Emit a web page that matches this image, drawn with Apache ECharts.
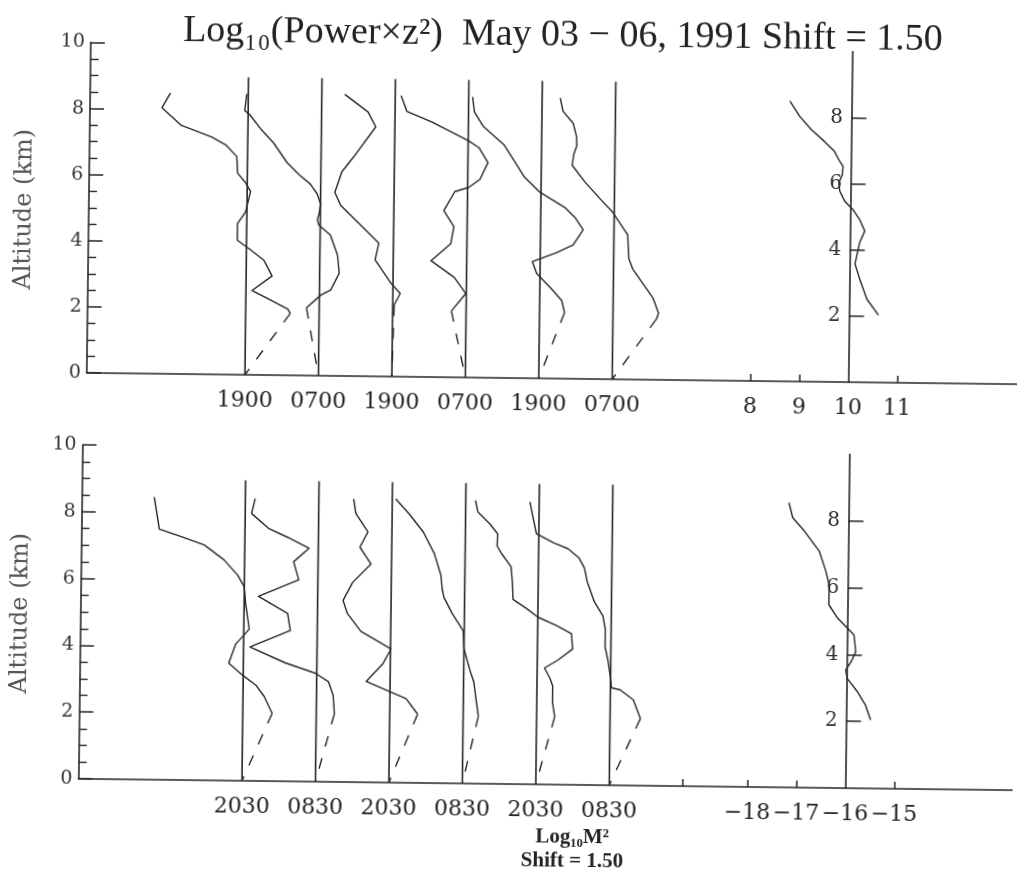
<!DOCTYPE html>
<html>
<head>
<meta charset="utf-8">
<script src="https://cdn.jsdelivr.net/npm/echarts@6/dist/echarts.min.js"></script>
<style>
html,body{margin:0;padding:0;background:#fff;overflow:hidden;}
#chart{width:1017px;height:878px;transform:rotate(0.7deg);transform-origin:50% 50%;background:#fff;}
</style>
</head>
<body>
<div id="chart"></div>
<script>
// ---------------- DATA ----------------
const SHIFT = 1.5;
// horizontal position of each profile's zero line (log units, reference scale = 0)
const baselinePos = [-12.32, -10.82, -9.32, -7.82, -6.32, -4.82];
const baselineTopKm = 9;
const topTimeLabels = ['1900', '0700', '1900', '0700', '1900', '0700'];
const bottomTimeLabels = ['2030', '0830', '2030', '0830', '2030', '0830'];
const topRefValue = 10;
const topRefTicks = [8, 9, 10, 11];
const bottomRefValue = -16;
const bottomRefTicks = [-18, -17, -16, -15];
const refAltTicks = [2, 4, 6, 8];

const titleText = 'Log₁₀(Power×z²)  May 03 − 06, 1991 Shift = 1.50';
const bottomName1 = 'Log₁₀M²';
const bottomName2 = 'Shift = 1.50';
const yName = 'Altitude (km)';

// profiles: [deviation from own zero line (log units), altitude km]
const top1 = [[-1.59,8.5],[-1.76,8.05],[-1.36,7.52],[-0.74,7.18],[-0.45,6.95],[-0.22,6.6],[-0.2,6.1],[-0.03,5.8],[0.07,5.55],[-0.03,4.92],[-0.19,4.57],[-0.19,4.07],[0.05,3.82],[0.36,3.47],[0.53,3.0],[0.12,2.55],[0.4,2.35],[0.86,2.0],[0.91,1.87]];
const top2 = [[-1.53,8.5],[-1.57,8.0],[-1.46,7.86],[-1.22,7.41],[-0.97,7.02],[-0.69,6.43],[-0.45,6.08],[-0.21,5.79],[-0.07,5.5],[0.0,5.2],[-0.02,4.94],[-0.06,4.71],[-0.03,4.56],[0.21,4.26],[0.36,3.66],[0.4,3.11],[0.23,2.6],[0.03,2.44],[-0.26,2.05]];
const top3 = [[-1.03,8.52],[-0.55,7.99],[-0.39,7.55],[-0.83,6.64],[-1.07,6.18],[-1.21,5.55],[-1.09,5.17],[-0.78,4.72],[-0.43,4.22],[-0.3,4.03],[-0.37,3.52],[-0.18,3.12],[-0.04,2.82],[0.15,2.52],[0.03,2.17]];
const top4 = [[-1.38,8.5],[-1.26,8.03],[-0.75,7.72],[0.01,7.16],[0.22,6.96],[0.41,6.51],[0.25,6.0],[0.02,5.75],[-0.26,5.62],[-0.48,5.04],[-0.27,4.56],[-0.33,4.04],[-0.73,3.52],[-0.25,3.02],[-0.01,2.54],[-0.3,2.01]];
const top5 = [[-1.42,8.49],[-1.38,8.04],[-1.2,7.61],[-0.77,7.06],[-0.58,6.63],[-0.34,6.08],[-0.03,5.64],[0.5,5.17],[0.7,4.88],[0.87,4.51],[0.67,4.05],[0.33,3.81],[-0.16,3.53],[-0.07,3.18],[0.24,2.71],[0.45,2.36],[0.51,2.0]];
const top6 = [[-1.13,8.49],[-1.07,8.09],[-0.86,7.73],[-0.79,7.34],[-0.78,7.06],[-0.84,6.79],[-0.87,6.46],[-0.6,5.95],[-0.27,5.42],[-0.03,5.05],[0.21,4.53],[0.28,4.38],[0.31,3.65],[0.39,3.35],[0.66,2.79],[0.81,2.48],[0.93,2.02],[0.89,1.84]];
// reference profile, absolute log10 values
const topRef = [[8.74,8.48],[8.94,8.03],[9.18,7.63],[9.45,7.28],[9.66,6.98],[9.77,6.68],[9.84,6.53],[9.83,6.28],[9.76,6.03],[9.78,5.78],[9.88,5.48],[10.05,5.23],[10.19,4.93],[10.3,4.58],[10.2,4.23],[10.11,3.58],[10.21,3.12],[10.36,2.52],[10.6,2.04]];

const bot1 = [[-1.86,8.47],[-1.75,7.51],[-1.3,7.29],[-0.83,7.05],[-0.42,6.61],[-0.14,6.16],[0.0,5.81],[0.03,5.32],[0.11,4.55],[0.01,4.37],[-0.16,4.1],[-0.3,3.52],[-0.02,3.17],[0.26,2.87],[0.43,2.54],[0.6,2.03]];
const bot2 = [[-1.3,8.46],[-1.37,8.01],[-1.02,7.57],[-0.63,7.31],[-0.19,6.99],[-0.5,6.58],[-0.39,6.04],[-1.21,5.53],[-0.61,5.03],[-0.55,4.52],[-1.37,4.01],[-0.65,3.55],[-0.03,3.25],[0.24,3.0],[0.34,2.6],[0.37,2.04]];
const bot3 = [[-0.79,8.48],[-0.74,8.05],[-0.49,7.5],[-0.65,7.04],[-0.42,6.54],[-0.79,5.98],[-0.98,5.44],[-0.89,5.05],[-0.61,4.52],[0.01,4.0],[-0.15,3.56],[-0.49,3.02],[0.33,2.52],[0.57,2.06]];
const bot4 = [[-1.43,8.5],[-1.15,8.05],[-0.86,7.52],[-0.63,6.88],[-0.49,6.24],[-0.46,5.82],[-0.42,5.56],[-0.25,5.09],[-0.02,4.57],[0.0,4.03],[0.13,3.38],[0.21,3.04],[0.26,2.52],[0.31,2.02]];
const bot5 = [[-1.3,8.48],[-1.25,8.14],[-1.0,7.78],[-0.84,7.49],[-0.85,7.13],[-0.75,6.89],[-0.56,6.51],[-0.53,6.09],[-0.51,5.53],[-0.23,5.26],[0.0,5.01],[0.38,4.77],[0.69,4.53],[0.72,4.07],[0.42,3.73],[0.15,3.49],[0.27,3.16],[0.32,2.95],[0.32,2.46],[0.37,2.03]];
const bot6 = [[-1.69,8.46],[-1.55,7.51],[-1.19,7.24],[-0.9,7.07],[-0.68,6.81],[-0.56,6.5],[-0.5,6.09],[-0.35,5.49],[-0.17,5.07],[-0.12,4.68],[-0.12,4.15],[-0.06,3.76],[0.0,3.22],[0.02,2.92],[0.2,2.86],[0.47,2.57],[0.62,2.01]];
const botRef = [[-17.22,8.53],[-17.14,8.08],[-16.9,7.69],[-16.59,7.09],[-16.45,6.49],[-16.38,6.09],[-16.38,5.49],[-16.2,5.09],[-15.96,4.74],[-15.86,4.59],[-15.82,4.09],[-15.91,3.79],[-16.02,3.54],[-15.99,3.29],[-15.78,2.9],[-15.61,2.5],[-15.5,2.05]];

const topProfiles = [top1, top2, top3, top4, top5, top6];
const botProfiles = [bot1, bot2, bot3, bot4, bot5, bot6];

// ---------------- BUILD ----------------
const INK = '#262626';
const NUM_FONT = "'DejaVu Serif', serif";
const TXT_FONT = "'Liberation Serif', serif";

function fmtNum(v) { return String(v).replace('-', '\u2212'); }

function buildSeries(p, profiles, refProfile, refValue) {
  const xi = p, yi = p * 2;
  const s = [];
  const base = { type: 'line', xAxisIndex: xi, yAxisIndex: yi, showSymbol: false, symbol: 'none',
    silent: true, animation: false, z: 3 };
  profiles.forEach((prof, i) => {
    const b = baselinePos[i];
    s.push(Object.assign({}, base, {
      data: [[b, 0], [b, baselineTopKm]],
      lineStyle: { color: INK, width: 1.6 }
    }));
    s.push(Object.assign({}, base, {
      data: prof.map(([d, a]) => [b + d, a]),
      lineStyle: { color: INK, width: 1.4, join: 'round' }
    }));
    const last = prof[prof.length - 1];
    s.push(Object.assign({}, base, {
      data: [[b + last[0], last[1]], [b, 0]],
      lineStyle: { color: INK, width: 1.4, type: [11, 12] }
    }));
  });
  s.push(Object.assign({}, base, {
    data: refProfile.map(([v, a]) => [v - refValue, a]),
    lineStyle: { color: INK, width: 1.4, join: 'round' }
  }));
  // altitude labels of the reference scale, placed left of its vertical line
  s.push({
    type: 'scatter', xAxisIndex: xi, yAxisIndex: yi, silent: true, animation: false,
    symbol: 'circle', symbolSize: 1, itemStyle: { color: 'rgba(0,0,0,0)' }, z: 5,
    data: refAltTicks.map(a => [refValue - refValue, a]),
    label: { show: true, position: 'left', distance: 8, formatter: pr => String(pr.value[1]),
      fontFamily: NUM_FONT, fontSize: 20, color: '#333', opacity: 1 },
    labelLayout: { hideOverlap: false }
  });
  return s;
}

function buildXAxis(p, min, max, timeLabels, refValue, refTicks, extraTicks) {
  const labelMap = {};
  baselinePos.forEach((b, i) => { labelMap[b.toFixed(2)] = timeLabels[i]; });
  const refPos = refTicks.map(t => t - refValue);
  refTicks.forEach((t, i) => { labelMap[refPos[i].toFixed(2)] = fmtNum(t); });
  const tickPos = refPos.filter(v => v !== 0).concat(extraTicks);
  return {
    gridIndex: p, type: 'value', min: min, max: max,
    axisLine: { show: true, onZero: true, lineStyle: { color: INK, width: 1.6 } },
    splitLine: { show: false },
    axisTick: { show: true, inside: true, length: 7, customValues: tickPos, lineStyle: { color: INK, width: 1.5 } },
    axisLabel: {
      show: true, customValues: baselinePos.concat(refPos), hideOverlap: false,
      formatter: v => labelMap[Number(v).toFixed(2)] || '',
      fontFamily: NUM_FONT, fontSize: 22, color: '#222', margin: 15
    }
  };
}

function buildMainY(p, nameGap, namePad) {
  return {
    gridIndex: p, type: 'value', min: 0, max: 10, interval: 2, position: 'left',
    axisLine: { show: true, onZero: false, lineStyle: { color: INK, width: 1.6 } },
    axisTick: { show: true, inside: true, length: 14, lineStyle: { color: INK, width: 1.5 } },
    minorTick: { show: true, splitNumber: 4, length: 8, lineStyle: { color: INK, width: 1.4 } },
    splitLine: { show: false }, minorSplitLine: { show: false },
    axisLabel: { fontFamily: NUM_FONT, fontSize: 19, color: '#333', margin: 6 },
    name: yName, nameLocation: 'middle', nameGap: nameGap, nameMoveOverlap: false,
    nameTextStyle: { fontFamily: NUM_FONT, fontSize: 24, color: '#555', padding: namePad }
  };
}

function buildRefY(p) {
  return {
    gridIndex: p, type: 'value', min: 0, max: 10, position: 'left',
    axisLine: { show: true, onZero: true, lineStyle: { color: INK, width: 1.6 } },
    axisTick: { show: true, inside: true, length: 15, customValues: refAltTicks, lineStyle: { color: INK, width: 1.5 } },
    axisLabel: { show: false },
    splitLine: { show: false }
  };
}

const option = {
  backgroundColor: '#fff',
  animation: false,
  title: [
    { text: titleText, left: 558, top: 35, textAlign: 'center', textVerticalAlign: 'middle', padding: 0,
      textStyle: { fontFamily: TXT_FONT, fontSize: 38, fontWeight: 'normal', color: '#222' } },
    { text: bottomName1, left: 577, top: 837, textAlign: 'center', textVerticalAlign: 'middle', padding: 0,
      textStyle: { fontFamily: TXT_FONT, fontSize: 21, fontWeight: 'bold', color: '#222' } },
    { text: bottomName2, left: 577, top: 861, textAlign: 'center', textVerticalAlign: 'middle', padding: 0,
      textStyle: { fontFamily: TXT_FONT, fontSize: 21, fontWeight: 'bold', color: '#222' } }
  ],
  grid: [
    { left: 86, top: 47.5, width: 932.9, height: 330.5, containLabel: false, outerBoundsMode: 'none' },
    { left: 82.6, top: 450.2, width: 938.3, height: 333.8, containLabel: false, outerBoundsMode: 'none' }
  ],
  xAxis: [
    buildXAxis(0, -15.55, 3.5, topTimeLabels, topRefValue, topRefTicks, []),
    buildXAxis(1, -15.66, 3.5, bottomTimeLabels, bottomRefValue, bottomRefTicks, [baselinePos[baselinePos.length - 1] + SHIFT])
  ],
  yAxis: [buildMainY(0, 52, [0, 5, 0, 0]), buildRefY(0), buildMainY(1, 48, [0, 4, 0, 0]), buildRefY(1)],
  series: buildSeries(0, topProfiles, topRef, topRefValue).concat(buildSeries(1, botProfiles, botRef, bottomRefValue))
};

const chart = echarts.init(document.getElementById('chart'), null, { renderer: 'canvas' });
chart.setOption(option);
</script>
</body>
</html>
